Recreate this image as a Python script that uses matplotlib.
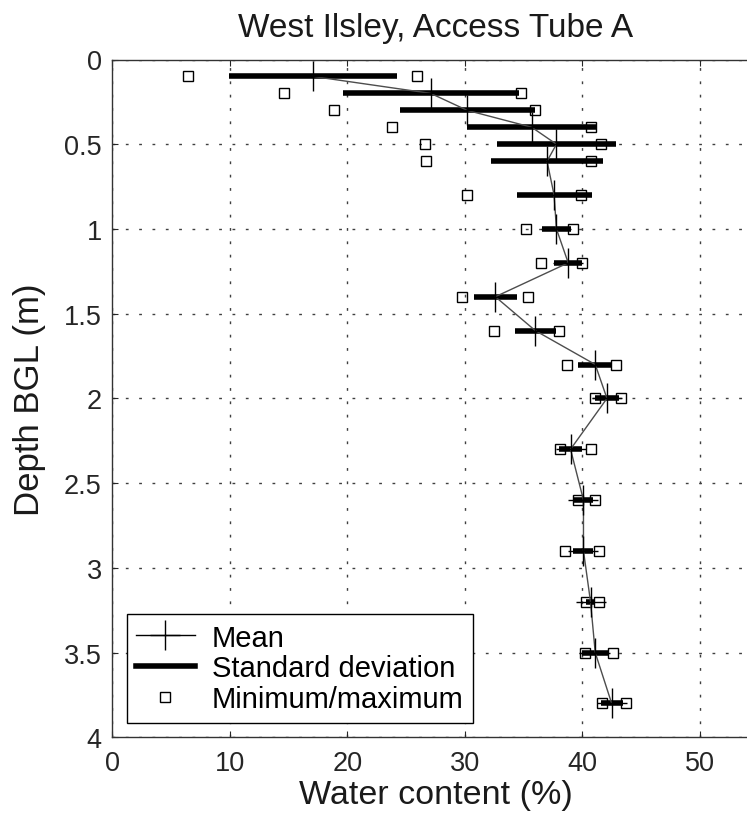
import matplotlib

matplotlib.use("Agg")
import matplotlib.pyplot as plt
from matplotlib.lines import Line2D
from matplotlib.ticker import FormatStrFormatter

plt.rcParams["font.family"] = ["Liberation Sans", "DejaVu Sans"]

# depth below ground level (m)
depth = [0.1, 0.2, 0.3, 0.4, 0.5, 0.6, 0.8, 1.0, 1.2, 1.4, 1.6, 1.8,
         2.0, 2.3, 2.6, 2.9, 3.2, 3.5, 3.8]
# water content (%)
mean = [17.1, 27.1, 30.2, 35.7, 37.8, 37.0, 37.6, 37.8, 38.8, 32.6, 36.0, 41.1,
        42.1, 39.0, 40.1, 40.1, 40.7, 41.1, 42.5]
std = [7.15, 7.5, 5.75, 5.5, 5.05, 4.75, 3.2, 1.25, 1.2, 1.8, 1.75, 1.45,
       1.05, 0.95, 0.8, 0.85, 0.35, 1.1, 0.95]
minimum = [6.4, 14.6, 18.9, 23.8, 26.6, 26.7, 30.2, 35.2, 36.5, 29.8, 32.5, 38.7,
           41.1, 38.1, 39.6, 38.5, 40.3, 40.2, 41.7]
maximum = [25.9, 34.8, 36.0, 40.7, 41.6, 40.7, 39.9, 39.2, 40.0, 35.4, 38.0, 42.9,
           43.3, 40.7, 41.1, 41.4, 41.4, 42.6, 43.7]

x_ticks = [0, 10, 20, 30, 40, 50]
y_ticks = [0, 0.5, 1, 1.5, 2, 2.5, 3, 3.5, 4]

fig = plt.figure(figsize=(7.47, 8.2), dpi=100)
ax = fig.add_axes([112.3 / 747, 1 - 738.3 / 820, 646.25 / 747, 677.8 / 820])

lo = [m - s for m, s in zip(mean, std)]
hi = [m + s for m, s in zip(mean, std)]

ax.plot(minimum, depth, "s", ms=7, mfc="none", mec="k", mew=1.0, zorder=3)
ax.plot(maximum, depth, "s", ms=7, mfc="none", mec="k", mew=1.0, zorder=3)
ax.hlines(depth, lo, hi, colors="k", lw=4, zorder=4)
ax.plot(mean, depth, color="0.3", lw=1.0, zorder=5)
ax.plot(mean, depth, "+", color="k", ms=21, mew=1.0, zorder=6)

ax.set_xlim(0, 55)
ax.set_ylim(4, 0)
ax.set_xticks(x_ticks)
ax.set_yticks(y_ticks)
ax.yaxis.set_major_formatter(FormatStrFormatter("%g"))

ax.grid(True, color="0.25", lw=1.0, linestyle=(0, (2, 7.6)))
ax.set_axisbelow(True)
ax.tick_params(direction="in", length=4.3, width=0.8, top=True, right=True,
               labelsize=19.5, colors="0.15")
ax.tick_params(axis="x", pad=9.5)
ax.tick_params(axis="y", pad=7.6)
for spine in ax.spines.values():
    spine.set_color("0.2")
    spine.set_linewidth(1.0)

ax.set_title("West Ilsley, Access Tube A", fontsize=24, pad=17, color="0.1")
ax.set_xlabel("Water content (%)", fontsize=24.5, labelpad=2, color="0.1")
ax.set_ylabel("Depth BGL (m)", fontsize=25, labelpad=13, color="0.1")

handles = [
    Line2D([], [], color="k", lw=1.0, marker="+", ms=21, mew=1.0),
    Line2D([], [], color="k", lw=4),
    Line2D([], [], ls="none", marker="s", ms=7, mfc="none", mec="k", mew=1.0),
]
labels = ["Mean", "Standard deviation", "Minimum/maximum"]
leg = ax.legend(handles, labels, loc="lower left", fontsize=21, fancybox=False,
                framealpha=1, edgecolor="k", borderpad=0.32, labelspacing=0.1,
                handlelength=2.0, handletextpad=0.6, borderaxespad=0.5)
leg.get_frame().set_linewidth(1.0)

fig.savefig("out.png", dpi=100)
